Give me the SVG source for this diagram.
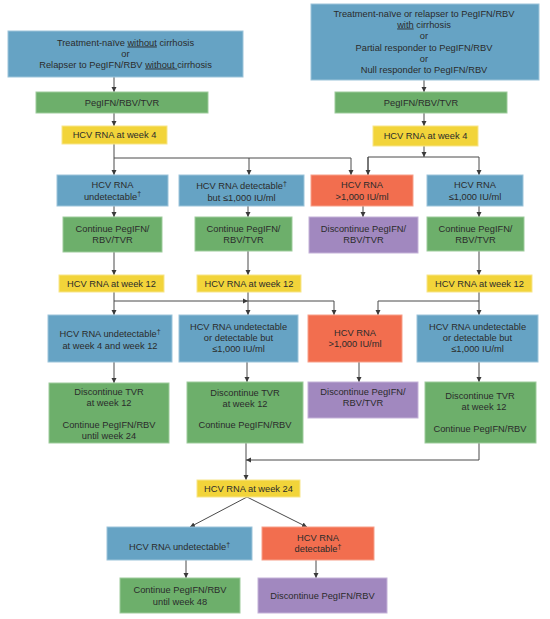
<svg xmlns="http://www.w3.org/2000/svg" width="550" height="619" viewBox="0 0 550 619">
<defs>
<marker id="ah" markerWidth="6" markerHeight="6" refX="5" refY="3" orient="auto" markerUnits="userSpaceOnUse">
<path d="M0,0.5 L5,3 L0,5.5 Z" fill="#3a3a3a"/>
</marker>
<style>
.b{fill:#66A3C4;stroke:#9cc4da;stroke-width:1}
.g{fill:#6DAF6B;stroke:#9dcb9b;stroke-width:1}
.y{fill:#F2D43A;stroke:#f7e58a;stroke-width:1}
.o{fill:#F26E4F;stroke:#f7a08a;stroke-width:1}
.p{fill:#A188BF;stroke:#c4b2d8;stroke-width:1}
text{font-family:"Liberation Sans",Arial,Helvetica,sans-serif;font-size:9.3px;fill:#2b2b2b;text-anchor:middle}
.c path{fill:none;stroke:#4a4a4a;stroke-width:1}
.d{font-size:7px}
</style>
</defs>
<rect width="550" height="619" fill="#ffffff"/>

<g class="c" id="connectors">
<path d="M114,77 V92" marker-end="url(#ah)"/>
<path d="M424,80 V92" marker-end="url(#ah)"/>
<path d="M114,113 V126" marker-end="url(#ah)"/>
<path d="M424,113 V126" marker-end="url(#ah)"/>
<path d="M114,144 V175" marker-end="url(#ah)"/>
<path d="M114,158 H351 V175" marker-end="url(#ah)"/>
<path d="M249,158 V175" marker-end="url(#ah)"/>
<path d="M424,146 V157" marker-end="url(#ah)"/>
<path d="M368,175 V157 H479 V175" marker-end="url(#ah)"/>
<path d="M368,157 V175" marker-end="url(#ah)"/>
<path d="M114,206 V217" marker-end="url(#ah)"/>
<path d="M248,206 V217" marker-end="url(#ah)"/>
<path d="M363,206 V217" marker-end="url(#ah)"/>
<path d="M479,206 V217" marker-end="url(#ah)"/>
<path d="M114,252 V275" marker-end="url(#ah)"/>
<path d="M248,251 V275" marker-end="url(#ah)"/>
<path d="M479,251 V275" marker-end="url(#ah)"/>
<path d="M114,292 V315" marker-end="url(#ah)"/>
<path d="M114,301 H248" marker-end="url(#ah)"/>
<path d="M248,301 H334 V315" marker-end="url(#ah)"/>
<path d="M248,292 V315" marker-end="url(#ah)"/>
<path d="M479,292 V315" marker-end="url(#ah)"/>
<path d="M479,301 H378 V315" marker-end="url(#ah)"/>
<path d="M114,362 V383" marker-end="url(#ah)"/>
<path d="M247,362 V382" marker-end="url(#ah)"/>
<path d="M359,362 V382" marker-end="url(#ah)"/>
<path d="M479,362 V382" marker-end="url(#ah)"/>
<path d="M246,443 V480" marker-end="url(#ah)"/>
<path d="M479,443 V460 H246" marker-end="url(#ah)"/>
<path d="M247,497 L190,527" marker-end="url(#ah)"/>
<path d="M247,497 L307,527" marker-end="url(#ah)"/>
<path d="M186,560 V578" marker-end="url(#ah)"/>
<path d="M316,560 V578" marker-end="url(#ah)"/>
</g>

<g id="start-left">
<rect class="b" x="8" y="31" width="235" height="46"/>
<text x="125.5" y="45.5">Treatment-naïve <tspan text-decoration="underline">without</tspan> cirrhosis</text>
<text x="125.5" y="56.5">or</text>
<text x="125.5" y="67.5">Relapser to PegIFN/RBV <tspan text-decoration="underline">without </tspan>cirrhosis</text>
</g>
<g id="start-right">
<rect class="b" x="311" y="4" width="228" height="76"/>
<text x="424" y="16.5">Treatment-naïve or relapser to PegIFN/RBV</text>
<text x="424" y="27.5"><tspan text-decoration="underline">with</tspan> cirrhosis</text>
<text x="424" y="39">or</text>
<text x="424" y="50.5">Partial responder to PegIFN/RBV</text>
<text x="424" y="61.5">or</text>
<text x="424" y="72.5">Null responder to PegIFN/RBV</text>
</g>
<g id="tx-left">
<rect class="g" x="36" y="92" width="172" height="21"/>
<text x="122" y="105.5">PegIFN/RBV/TVR</text>
</g>
<g id="tx-right">
<rect class="g" x="335" y="92" width="172" height="21"/>
<text x="421" y="105.5">PegIFN/RBV/TVR</text>
</g>
<g id="w4-left">
<rect class="y" x="62" y="126" width="105" height="18"/>
<text x="114.5" y="138.3">HCV RNA at week 4</text>
</g>
<g id="w4-right">
<rect class="y" x="373" y="126" width="105" height="20"/>
<text x="425.5" y="139.3">HCV RNA at week 4</text>
</g>

<g id="r4-undet">
<rect class="b" x="57" y="175" width="111" height="31"/>
<text x="112.5" y="188.3">HCV RNA</text>
<text x="112.5" y="199.5">undetectable<tspan class="d" dy="-3.5">†</tspan></text>
</g>
<g id="r4-det">
<rect class="b" x="179" y="175" width="125" height="31"/>
<text x="241.5" y="189">HCV RNA detectable<tspan class="d" dy="-3.5">†</tspan></text>
<text x="241.5" y="201">but ≤1,000 IU/ml</text>
</g>
<g id="r4-high">
<rect class="o" x="311" y="175" width="102" height="31"/>
<text x="362" y="188.3">HCV RNA</text>
<text x="362" y="199.5">&gt;1,000 IU/ml</text>
</g>
<g id="r4-low">
<rect class="b" x="427" y="175" width="96" height="31"/>
<text x="475" y="188.3">HCV RNA</text>
<text x="475" y="199.5">≤1,000 IU/ml</text>
</g>

<g id="r5-cont1">
<rect class="g" x="63" y="217" width="99" height="35"/>
<text x="112.5" y="232.3">Continue PegIFN/</text>
<text x="112.5" y="243.3">RBV/TVR</text>
</g>
<g id="r5-cont2">
<rect class="g" x="195" y="217" width="97" height="34"/>
<text x="243.5" y="232.3">Continue PegIFN/</text>
<text x="243.5" y="243.3">RBV/TVR</text>
</g>
<g id="r5-stop">
<rect class="p" x="309" y="217" width="109" height="36"/>
<text x="363.5" y="232.3">Discontinue PegIFN/</text>
<text x="363.5" y="243.3">RBV/TVR</text>
</g>
<g id="r5-cont4">
<rect class="g" x="427" y="217" width="97" height="34"/>
<text x="475.5" y="232.3">Continue PegIFN/</text>
<text x="475.5" y="243.3">RBV/TVR</text>
</g>

<g id="w12-1">
<rect class="y" x="59" y="275" width="105" height="17"/>
<text x="111.5" y="286.5">HCV RNA at week 12</text>
</g>
<g id="w12-2">
<rect class="y" x="197" y="275" width="104" height="17"/>
<text x="249" y="286.5">HCV RNA at week 12</text>
</g>
<g id="w12-4">
<rect class="y" x="427" y="275" width="105" height="17"/>
<text x="479.5" y="286.5">HCV RNA at week 12</text>
</g>

<g id="r7-undet">
<rect class="b" x="48" y="315" width="124" height="47"/>
<text x="110" y="337.3">HCV RNA undetectable<tspan class="d" dy="-3.5">†</tspan></text>
<text x="110" y="349.3">at week 4 and week 12</text>
</g>
<g id="r7-low2">
<rect class="b" x="179" y="315" width="119" height="47"/>
<text x="238.5" y="330.3">HCV RNA undetectable</text>
<text x="238.5" y="341.3">or detectable but</text>
<text x="238.5" y="352.3">≤1,000 IU/ml</text>
</g>
<g id="r7-high">
<rect class="o" x="308" y="315" width="94" height="47"/>
<text x="355" y="336.3">HCV RNA</text>
<text x="355" y="347.3">&gt;1,000 IU/ml</text>
</g>
<g id="r7-low4">
<rect class="b" x="417" y="315" width="121" height="47"/>
<text x="477.5" y="330.3">HCV RNA undetectable</text>
<text x="477.5" y="341.3">or detectable but</text>
<text x="477.5" y="352.3">≤1,000 IU/ml</text>
</g>

<g id="r8-1">
<rect class="g" x="49" y="383" width="120" height="60"/>
<text x="109" y="395.3">Discontinue TVR</text>
<text x="109" y="406.3">at week 12</text>
<text x="109" y="428.3">Continue PegIFN/RBV</text>
<text x="109" y="439.3">until week 24</text>
</g>
<g id="r8-2">
<rect class="g" x="187" y="382" width="116" height="61"/>
<text x="245" y="396.3">Discontinue TVR</text>
<text x="245" y="406.8">at week 12</text>
<text x="245" y="428.3">Continue PegIFN/RBV</text>
</g>
<g id="r8-3">
<rect class="p" x="308" y="382" width="110" height="36"/>
<text x="363" y="395.3">Discontinue PegIFN/</text>
<text x="363" y="406.3">RBV/TVR</text>
</g>
<g id="r8-4">
<rect class="g" x="425" y="382" width="111" height="61"/>
<text x="480" y="399.3">Discontinue TVR</text>
<text x="484" y="410.3">at week 12</text>
<text x="480" y="432.3">Continue PegIFN/RBV</text>
</g>

<g id="w24">
<rect class="y" x="197" y="480" width="103" height="17"/>
<text x="248.5" y="491.8">HCV RNA at week 24</text>
</g>

<g id="r10-undet">
<rect class="b" x="107" y="527" width="145" height="33"/>
<text x="179.5" y="550.3">HCV RNA undetectable<tspan class="d" dy="-3.5">†</tspan></text>
</g>
<g id="r10-det">
<rect class="o" x="262" y="527" width="112" height="33"/>
<text x="318" y="541.3">HCV RNA</text>
<text x="318" y="552.3">detectable<tspan class="d" dy="-3.5">†</tspan></text>
</g>
<g id="r11-cont">
<rect class="g" x="120" y="578" width="120" height="35"/>
<text x="180" y="593.3">Continue PegIFN/RBV</text>
<text x="180" y="605.3">until week 48</text>
</g>
<g id="r11-stop">
<rect class="p" x="258" y="578" width="129" height="35"/>
<text x="322.5" y="599.3">Discontinue PegIFN/RBV</text>
</g>
</svg>
